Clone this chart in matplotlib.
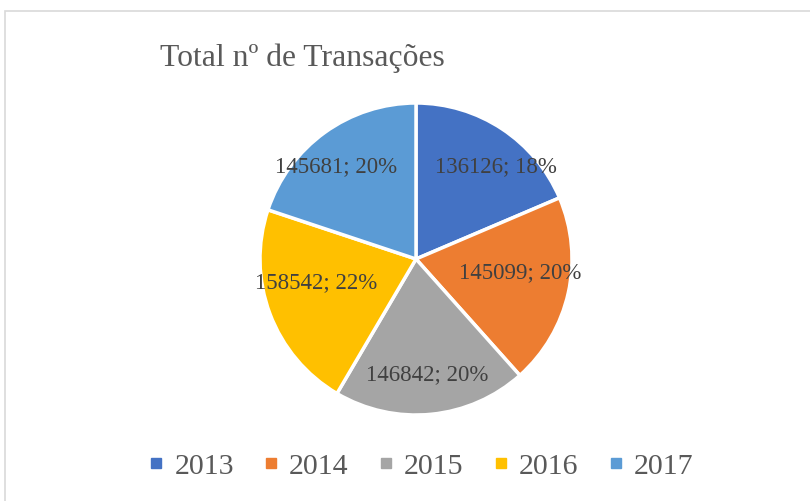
import numpy as np
import matplotlib.pyplot as plt
from matplotlib.patches import Rectangle
from matplotlib.lines import Line2D

years = ['2013', '2014', '2015', '2016', '2017']
transactions = [136126, 145099, 146842, 158542, 145681]
pct_labels = [18, 20, 20, 22, 20]  # as shown on the chart
colors = ['#4472C4', '#ED7D31', '#A5A5A5', '#FFC000', '#5B9BD5']
# label placement (fraction of radius, angle nudge in degrees)
label_radius = [0.786, 0.672, 0.74, 0.658, 0.786]
label_nudge = [-7.2, 5.5, 0.0, -7.7, 4.9]

plt.rcParams['font.family'] = ['Liberation Serif', 'DejaVu Serif']

fig = plt.figure(figsize=(8.1, 5.02), dpi=100)
# chart-area border
fig.patches.append(Rectangle((5 / 810, -0.1), 1.2, 1 - 12 / 502 + 0.1,
                             transform=fig.transFigure, fill=False,
                             edgecolor='#D9D9D9', linewidth=1.2))

ax = fig.add_axes([260 / 810, 86 / 502, 312 / 810, 312 / 502])
wedges, _ = ax.pie(transactions, colors=colors, startangle=90, counterclock=False,
                   radius=1, wedgeprops=dict(edgecolor='white', linewidth=2.5))
ax.set_xlim(-1, 1)
ax.set_ylim(-1, 1)
ax.set_aspect('equal')

for w, v, p, r, d in zip(wedges, transactions, pct_labels, label_radius, label_nudge):
    ang = np.deg2rad((w.theta1 + w.theta2) / 2 + d)
    ax.text(r * np.cos(ang), r * np.sin(ang), f'{v}; {p}%', ha='center', va='center',
            fontsize=16.5, color='#404040')

fig.text(160 / 810, 1 - 58 / 502, 'Total nº de Transações', ha='left', va='center',
         fontsize=22.8, color='#595959')

handles = [Line2D([], [], marker='s', linestyle='none', markersize=7.5,
                  markerfacecolor=c, markeredgecolor=c) for c in colors]
fig.legend(handles, years, loc='center', bbox_to_anchor=(421 / 810, 1 - 467 / 502), ncol=5,
           frameon=False, fontsize=21.5, handlelength=0.5, handletextpad=0.35,
           columnspacing=1.0, labelcolor='#595959')

fig.savefig('out.png', dpi=100)
